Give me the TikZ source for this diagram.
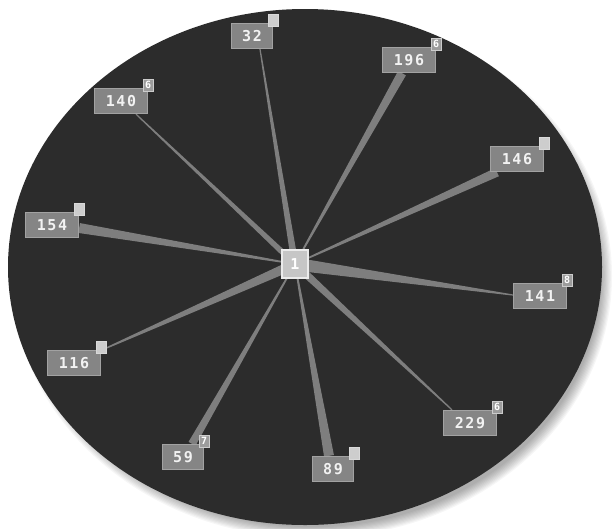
\documentclass[tikz,border=0pt]{standalone}
\usepackage{fontspec}
\setmonofont{DejaVu Sans Mono}
\usetikzlibrary{calc}
\pgfdeclarelayer{background}
\pgfsetlayers{background,main}
\definecolor{bgdark}{HTML}{2C2C2C}
\definecolor{wedgecol}{HTML}{7E7E7E}
\definecolor{boxfill}{HTML}{858585}
\definecolor{boxline}{HTML}{A2A2A2}
\definecolor{boxtext}{HTML}{F2F2F2}
\definecolor{supfill}{HTML}{CDCDCD}
\definecolor{supdigfill}{HTML}{9C9C9C}
\definecolor{centfill}{HTML}{C6C6C6}
\newcommand\wedgeline[4]{\fill[wedgecol] ($(#1)!#3!90:(#2)$) -- ($(#2)!#4!-90:(#1)$) -- ($(#2)!#4!90:(#1)$) -- ($(#1)!#3!-90:(#2)$) -- cycle;}
\begin{document}
\begin{tikzpicture}[x=1pt,y=-1pt,
  numbox/.style={draw=boxline, fill=boxfill, line width=1.3pt, inner sep=0pt,
    minimum height=25pt, text=boxtext,
    font=\ttfamily\bfseries\fontsize{15}{15}\selectfont\addfontfeatures{LetterSpace=10}},
  wide/.style={minimum width=53pt},
  narrow/.style={minimum width=41pt},
  supbox/.style={draw=white!85!black, fill=supfill, line width=0.5pt, inner sep=0pt,
    minimum width=10pt, minimum height=12pt},
  supdig/.style={draw=white!80!black, fill=supdigfill, line width=0.5pt, inner sep=0pt,
    minimum width=10pt, minimum height=12pt, text=white,
    font=\ttfamily\bfseries\fontsize{10}{10}\selectfont},
  centbox/.style={draw=white!92!black, fill=centfill, line width=1.5pt, inner sep=0pt,
    minimum width=26pt, minimum height=28pt, text=white,
    font=\ttfamily\bfseries\fontsize{15}{15}\selectfont}]
\useasboundingbox (0,0) rectangle (613,528);
\begin{pgfonlayer}{background}
\fill[white] (0,0) rectangle (613,528);
\foreach \i in {1,...,10}{
  \fill[black, opacity=0.035] (312,276) ellipse ({288+\i*1.2} and {250+\i*1.2});
}
\fill[bgdark] (305,267) ellipse (297 and 258);
\end{pgfonlayer}
% nodes
\node[centbox] (c) at (295,264) {1};
\node[numbox,narrow] (n32) at (252,36) {32};
\node[numbox,wide] (n196) at (409,60) {196};
\node[numbox,wide] (n140) at (121,101) {140};
\node[numbox,wide] (n146) at (517,159) {146};
\node[numbox,wide] (n154) at (52,225) {154};
\node[numbox,wide] (n141) at (540,296) {141};
\node[numbox,wide] (n116) at (74,363) {116};
\node[numbox,wide] (n229) at (470,423) {229};
\node[numbox,narrow] (n59) at (183,457) {59};
\node[numbox,narrow] (n89) at (333,469) {89};
% small corner tags
\node[supbox] (s32) at ([yshift=3pt]n32.north east) {};
\node[supdig] (s196) at ([yshift=3pt]n196.north east) {6};
\node[supdig] (s140) at ([yshift=3pt]n140.north east) {6};
\node[supbox] (s146) at ([yshift=3pt]n146.north east) {};
\node[supbox] (s154) at ([yshift=3pt]n154.north east) {};
\node[supdig] (s141) at ([yshift=3pt]n141.north east) {8};
\node[supbox] (s116) at ([yshift=3pt]n116.north east) {};
\node[supdig] (s229) at ([yshift=3pt]n229.north east) {6};
\node[supdig] (s59) at ([yshift=3pt]n59.north east) {7};
\node[supbox] (s89) at ([yshift=3pt]n89.north east) {};
% connector end points on the boxes
\coordinate (e32) at ([xshift=8pt]n32.south);
\coordinate (e196) at ([xshift=-7pt]n196.south);
\coordinate (e140) at ([xshift=15pt]n140.south);
\coordinate (e146) at ([xshift=-20pt]n146.south);
\coordinate (e154) at ([yshift=-3pt]n154.east);
\coordinate (e141) at ([yshift=1pt]n141.west);
\coordinate (e116) at ([xshift=26pt,yshift=-1pt]n116.north);
\coordinate (e229) at ([xshift=-18pt]n229.north);
\coordinate (e59) at ([xshift=9pt]n59.north);
\coordinate (e89) at ([xshift=-4pt]n89.north);
\begin{pgfonlayer}{background}
\wedgeline{c.center}{e32}{3.5pt}{0.6pt}
\wedgeline{c.center}{e196}{0.6pt}{4.5pt}
\wedgeline{c.center}{e140}{3pt}{0.6pt}
\wedgeline{c.center}{e146}{0.6pt}{4.5pt}
\wedgeline{c.center}{e154}{0.6pt}{5pt}
\wedgeline{c.center}{e141}{6.5pt}{0.6pt}
\wedgeline{c.center}{e116}{5pt}{0.6pt}
\wedgeline{c.center}{e229}{4pt}{0.6pt}
\wedgeline{c.center}{e59}{0.6pt}{4pt}
\wedgeline{c.center}{e89}{0.6pt}{5pt}
\end{pgfonlayer}
\end{tikzpicture}
\end{document}
